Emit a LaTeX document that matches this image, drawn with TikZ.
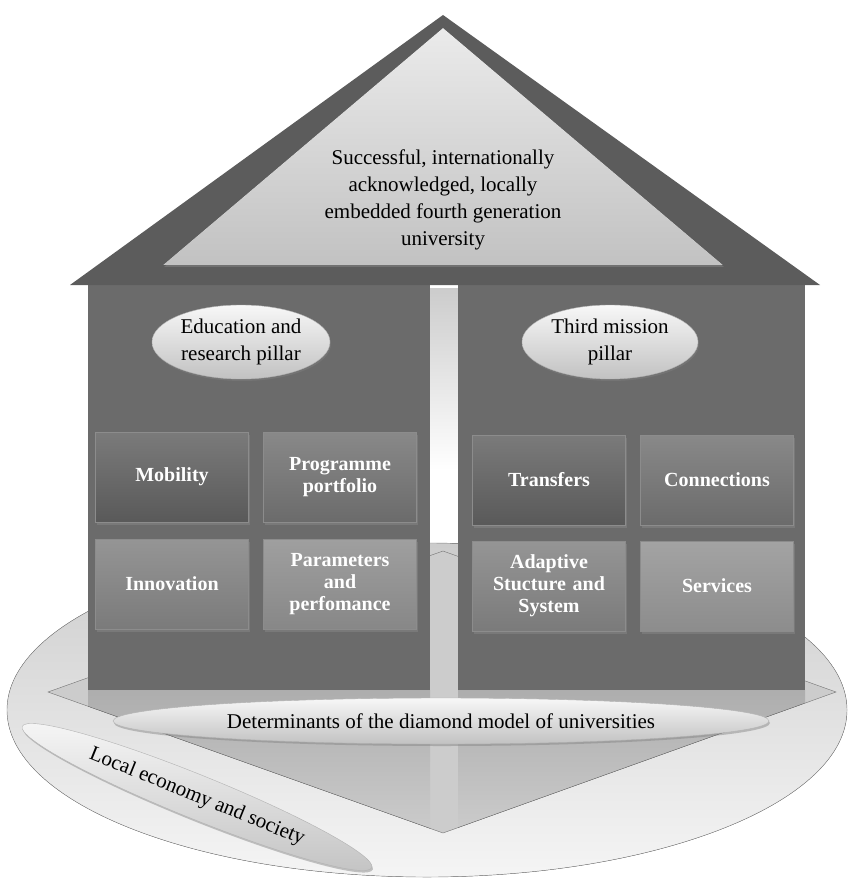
\documentclass[tikz,border=0pt]{standalone}
\usepackage{fontspec}
\setmainfont{Liberation Serif}
\usetikzlibrary{shapes.geometric,shadows}

\newcommand\bubbletext{\fontsize{21}{27}\selectfont}
\newcommand\celltext{\fontsize{20}{22}\selectfont\bfseries}

\tikzset{
  cell/.style={draw=black!45,line width=.5pt,minimum width=153pt,minimum height=90pt,
    text width=140pt,align=center,text=white,font=\celltext,
    top color=black!#1!white!80,bottom color=black!#1,
    drop shadow={shadow xshift=1.5pt,shadow yshift=-2.5pt,opacity=.7}},
  bubble/.style={ellipse,draw=black!30,line width=.4pt,inner sep=0pt,align=center,font=\bubbletext,
    top color=black!3,bottom color=black!24,
    drop shadow={shadow xshift=1pt,shadow yshift=-2pt,opacity=.45}}
}

\begin{document}
\begin{tikzpicture}[x=1pt,y=-1pt]
\useasboundingbox (0,0) rectangle (849,882);
% ground and diamond
\fill[top color=black!20,bottom color=black!4] (427,710) ellipse [x radius=420,y radius=167];
\fill[black!20] (48,692) -- (443,551) -- (836,692) -- (443,833) -- cycle;
\begin{scope}
\clip (48,692) -- (443,551) -- (836,692) -- (443,833) -- cycle;
\foreach \a/\b in {88/430,458/805}
  \fill[top color=black!32,bottom color=black!20] (\a,690) rectangle (\b,835);
\end{scope}
\draw[black!55] (48,692) -- (443,551) -- (836,692) -- (443,833) -- cycle;
\draw[black!50] (427,710) ellipse [x radius=420,y radius=167];
% walls
\fill[top color=black!20,bottom color=white] (430,288) rectangle (458,470);
\foreach \a/\b in {88/430,458/805}
  \fill[black!58] (\a,285) rectangle (\b,690);
% roof
\fill[black!64] (443,15) -- (820,285) -- (70,285) -- cycle;
\fill[top color=black!8,bottom color=black!24,drop shadow={shadow xshift=1pt,shadow yshift=-2pt,opacity=.6}]
  (443,28) -- (723,265) -- (163,265) -- cycle;
\node[font=\bubbletext,align=center] (goal) at (443,200)
  {Successful, internationally\\acknowledged, locally\\embedded fourth generation\\university};
% pillars
\node[bubble,minimum width=178pt,minimum height=74pt] (edu) at (241,342) {Education and\\research pillar};
\node[bubble,minimum width=176pt,minimum height=74pt] (third) at (610,342) {Third mission\\pillar};
\foreach \t/\g [count=\i from 0] in {Mobility/65,Programme\\portfolio/58,Innovation/52,Parameters\\and\\perfomance/47}
  \node[cell=\g] (L\i) at ({172+168*mod(\i,2)},{477+107*div(\i,2)}) {\t};
\foreach \t/\g [count=\i from 0] in {Transfers/65,Connections/58,Adaptive\\Stucture and\\System/52,Services/45}
  \node[cell=\g] (R\i) at ({549+168*mod(\i,2)},{480+106*div(\i,2)}) {\t};
% base
\node[bubble,minimum width=656pt,minimum height=46pt] (diamond) at (441,721)
  {Determinants of the diamond model of universities};
\node[bubble,minimum width=377pt,minimum height=44pt,rotate=-22] (local) at (197,797)
  {Local economy and society};
\end{tikzpicture}
\end{document}
